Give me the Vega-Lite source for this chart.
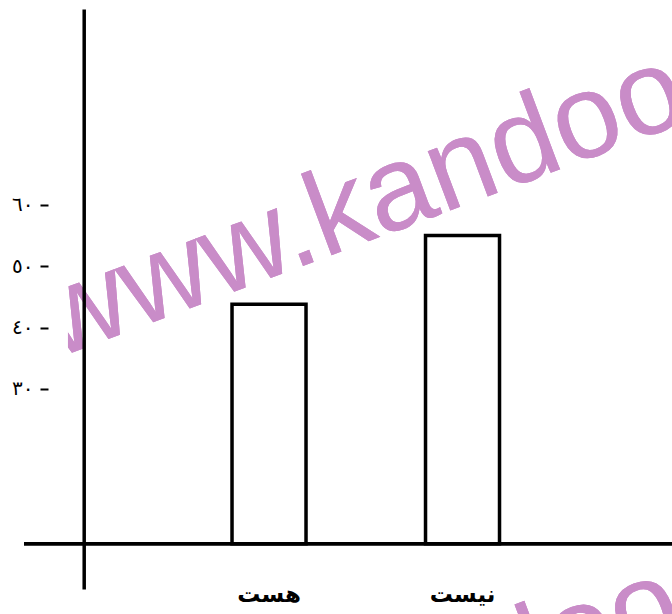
{
  "$schema": "https://vega.github.io/schema/vega-lite/v6.json",
  "width": 648,
  "height": 580,
  "autosize": {"type": "none"},
  "padding": {"left": 24, "top": 9, "right": 0, "bottom": 25},
  "background": "white",
  "config": {"view": {"stroke": null}},
  "data": {"values": [
    {"answer": "هست", "value": 43.8},
    {"answer": "نیست", "value": 55.0}
  ]},
  "layer": [
    {
      "mark": {"type": "text", "text": "www.kandoo", "angle": -20.6, "font": "Liberation Sans", "fontSize": 120, "color": "#c98cc8", "align": "center", "baseline": "alphabetic"},
      "encoding": {
        "x": {"datum": "هست", "type": "nominal", "bandPosition": 1.919, "axis": null},
        "y": {"datum": 54.39, "type": "quantitative", "axis": null}
      }
    },
    {
      "mark": {"type": "text", "text": "www.kandoo", "angle": -20.6, "font": "Liberation Sans", "fontSize": 120, "color": "#c98cc8", "align": "center", "baseline": "alphabetic"},
      "encoding": {
        "x": {"datum": "هست", "type": "nominal", "bandPosition": 1.85, "axis": null},
        "y": {"datum": -29.2, "type": "quantitative", "axis": null}
      }
    },
    {
      "mark": {"type": "rect", "fill": "white"},
      "encoding": {
        "x": {"datum": "هست", "type": "nominal", "bandPosition": -2.83, "axis": null},
        "x2": {"datum": "هست", "bandPosition": -2.22},
        "y": {"datum": 49, "type": "quantitative", "axis": null},
        "y2": {"datum": 31}
      }
    },
    {
      "mark": {"type": "bar", "fill": "white", "stroke": "black", "strokeWidth": 3.5},
      "encoding": {
        "x": {
          "field": "answer", "type": "nominal", "sort": null,
          "scale": {"paddingInner": 0.6176, "paddingOuter": 0.9832, "align": 0.5467, "round": false},
          "axis": {"orient": "bottom", "domain": false, "ticks": false, "tickSize": 0, "grid": false, "title": null, "labelAngle": 0, "labelFont": "DejaVu Sans", "labelFontWeight": "bold", "labelFontSize": 23, "labelColor": "black", "labelPadding": 12, "labelBaseline": "alphabetic"}
        },
        "y": {
          "field": "value", "type": "quantitative",
          "scale": {"domain": [-2.63, 91.94], "nice": false, "zero": false},
          "axis": {"orient": "left", "offset": -24, "domain": false, "ticks": true, "tickSize": 8, "tickWidth": 2, "tickColor": "black", "values": [30, 40, 50, 60], "labelExpr": "datum.value == 30 ? '٣٠' : datum.value == 40 ? '٤٠' : datum.value == 50 ? '٥٠' : '٦٠'", "labelFont": "DejaVu Sans", "labelFontSize": 20, "labelColor": "black", "labelPadding": 7, "grid": false, "title": null, "zindex": 1}
        },
        "y2": {"datum": 4.76}
      }
    },
    {
      "mark": {"type": "rule", "color": "black", "strokeWidth": 3.5},
      "encoding": {
        "y": {"datum": 4.76, "type": "quantitative", "axis": {"orient": "left", "offset": -59.7, "domain": true, "domainColor": "black", "domainWidth": 3.5, "ticks": false, "labels": false, "grid": false, "title": null, "zindex": 1}}
      }
    }
  ],
  "resolve": {"axis": {"x": "independent", "y": "independent"}}
}
